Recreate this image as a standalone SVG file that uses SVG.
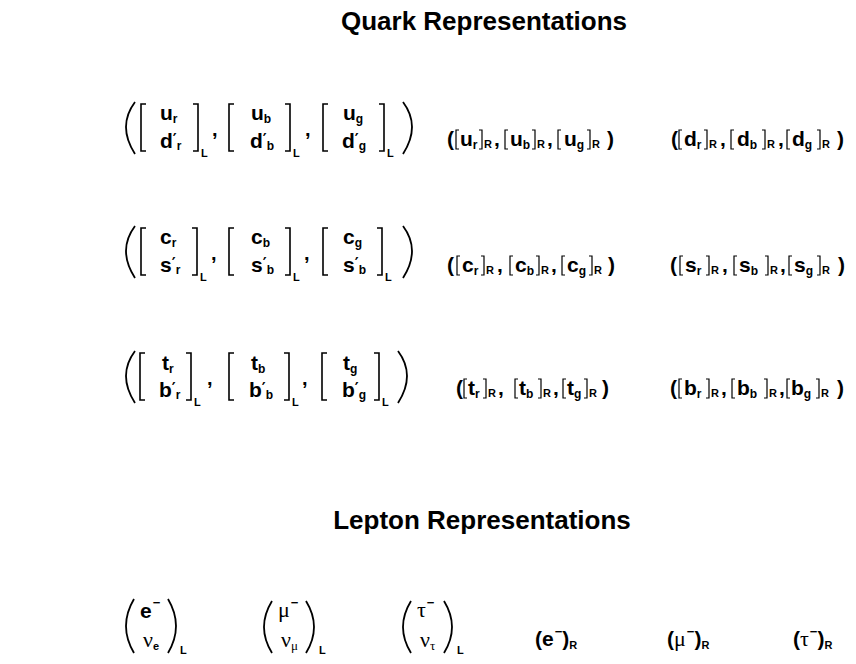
<svg xmlns="http://www.w3.org/2000/svg" width="856" height="664" viewBox="0 0 856 664">
<style>
text{fill:#000}
.h{font:bold 26px "Liberation Sans",Arial,sans-serif;text-anchor:middle}
.m{font:bold 21px "Liberation Sans",Arial,sans-serif}
.s{font:bold 12px "Liberation Sans",Arial,sans-serif}
.l{font:bold 11px "Liberation Sans",Arial,sans-serif}
.p{font:bold 15px "DejaVu Sans",sans-serif}
.c{font:bold 20px "Liberation Sans",Arial,sans-serif}
.g{font:22px "Liberation Serif","Times New Roman",serif}
.gs{font:13px "Liberation Serif","Times New Roman",serif}
.mi{font:bold 13px "Liberation Sans","DejaVu Sans",sans-serif}
.bk{fill:none;stroke:#000;stroke-width:1.6}
.tb{fill:none;stroke:#000;stroke-width:1.2}
.pa{fill:none;stroke:#000;stroke-width:1.8}
</style>
<rect width="856" height="664" fill="#fff"/>

<text class="h" x="484" y="30">Quark Representations</text>
<text class="h" x="482" y="529">Lepton Representations</text>

<!-- Row 1 doublets -->
<g id="q-ud-L">
<path class="pa" d="M135,102 Q117,126 135,154 M403,102 Q421,126 403,154"/>
<path class="bk" d="M146,104 H141 V151 H146 M193,104 H198 V151 H193 M234,104 H229 V151 H234 M285,104 H290 V151 H285 M328,104 H323 V151 H328 M379,104 H384 V151 H379"/>
<text class="m" x="160" y="120">u<tspan class="s" dy="3">r</tspan></text>
<text class="m" x="160" y="148">d<tspan class="p" dy="-3">′</tspan><tspan class="s" dy="5">r</tspan></text>
<text class="l" x="201" y="157">L</text><text class="c" x="212" y="136">,</text>
<text class="m" x="251" y="120">u<tspan class="s" dy="3">b</tspan></text>
<text class="m" x="250" y="148">d<tspan class="p" dy="-3">′</tspan><tspan class="s" dy="5">b</tspan></text>
<text class="l" x="293" y="157">L</text><text class="c" x="305" y="136">,</text>
<text class="m" x="343" y="120">u<tspan class="s" dy="3">g</tspan></text>
<text class="m" x="342" y="148">d<tspan class="p" dy="-3">′</tspan><tspan class="s" dy="5">g</tspan></text>
<text class="l" x="387" y="157">L</text>
</g>

<g id="q-u-R">
<text class="m" x="447" y="146">(</text>
<path class="tb" d="M459,130 H456 V149 H459 M479,130 H482 V149 H479 M508,130 H505 V149 H508 M532,130 H535 V149 H532 M561,130 H558 V149 H561 M587,130 H590 V149 H587"/>
<text class="m" x="460" y="146">u<tspan class="s" dy="3">r</tspan></text><text class="l" x="484" y="148">R</text><text class="m" x="494" y="146">,</text>
<text class="m" x="510" y="146">u<tspan class="s" dy="3">b</tspan></text><text class="l" x="537" y="148">R</text><text class="m" x="547" y="146">,</text>
<text class="m" x="564" y="146">u<tspan class="s" dy="3">g</tspan></text><text class="l" x="592" y="148">R</text>
<text class="m" x="607" y="146">)</text>
</g>

<g id="q-d-R">
<text class="m" x="671" y="146">(</text>
<path class="tb" d="M682,130 H679 V149 H682 M704,130 H707 V149 H704 M734,130 H731 V149 H734 M762,130 H765 V149 H762 M790,130 H787 V149 H790 M817,130 H820 V149 H817"/>
<text class="m" x="684" y="146">d<tspan class="s" dy="3">r</tspan></text><text class="l" x="709" y="148">R</text><text class="m" x="720" y="146">,</text>
<text class="m" x="737" y="146">d<tspan class="s" dy="3">b</tspan></text><text class="l" x="767" y="148">R</text><text class="m" x="778" y="146">,</text>
<text class="m" x="792" y="146">d<tspan class="s" dy="3">g</tspan></text><text class="l" x="822" y="148">R</text>
<text class="m" x="837" y="146">)</text>
</g>

<!-- Row 2 doublets -->
<g id="q-cs-L">
<path class="pa" d="M135,226 Q117,250 135,278 M403,226 Q421,250 403,278"/>
<path class="bk" d="M146,228 H141 V275 H146 M192,228 H197 V275 H192 M234,228 H229 V275 H234 M285,228 H290 V275 H285 M328,228 H323 V275 H328 M377,228 H382 V275 H377"/>
<text class="m" x="160" y="244">c<tspan class="s" dy="3">r</tspan></text>
<text class="m" x="160" y="272">s<tspan class="p" dy="-3">′</tspan><tspan class="s" dy="5">r</tspan></text>
<text class="l" x="200" y="281">L</text><text class="c" x="211" y="260">,</text>
<text class="m" x="251" y="244">c<tspan class="s" dy="3">b</tspan></text>
<text class="m" x="251" y="272">s<tspan class="p" dy="-3">′</tspan><tspan class="s" dy="5">b</tspan></text>
<text class="l" x="293" y="281">L</text><text class="c" x="304" y="260">,</text>
<text class="m" x="343" y="244">c<tspan class="s" dy="3">g</tspan></text>
<text class="m" x="343" y="272">s<tspan class="p" dy="-3">′</tspan><tspan class="s" dy="5">b</tspan></text>
<text class="l" x="385" y="281">L</text>
</g>

<g id="q-c-R">
<text class="m" x="447" y="272">(</text>
<path class="tb" d="M460,256 H457 V275 H460 M481,256 H484 V275 H481 M513,256 H510 V275 H513 M536,256 H539 V275 H536 M565,256 H562 V275 H565 M589,256 H592 V275 H589"/>
<text class="m" x="462" y="272">c<tspan class="s" dy="3">r</tspan></text><text class="l" x="486" y="274">R</text><text class="m" x="497" y="272">,</text>
<text class="m" x="515" y="272">c<tspan class="s" dy="3">b</tspan></text><text class="l" x="541" y="274">R</text><text class="m" x="551" y="272">,</text>
<text class="m" x="567" y="272">c<tspan class="s" dy="3">g</tspan></text><text class="l" x="594" y="274">R</text>
<text class="m" x="608" y="272">)</text>
</g>

<g id="q-s-R">
<text class="m" x="670" y="272">(</text>
<path class="tb" d="M683,256 H680 V275 H683 M706,256 H709 V275 H706 M737,256 H734 V275 H737 M765,256 H768 V275 H765 M792,256 H789 V275 H792 M817,256 H820 V275 H817"/>
<text class="m" x="685" y="272">s<tspan class="s" dy="3">r</tspan></text><text class="l" x="711" y="274">R</text><text class="m" x="722" y="272">,</text>
<text class="m" x="739" y="272">s<tspan class="s" dy="3">b</tspan></text><text class="l" x="770" y="274">R</text><text class="m" x="780" y="272">,</text>
<text class="m" x="794" y="272">s<tspan class="s" dy="3">g</tspan></text><text class="l" x="822" y="274">R</text>
<text class="m" x="838" y="272">)</text>
</g>

<!-- Row 3 doublets -->
<g id="q-tb-L">
<path class="pa" d="M135,351 Q117,375 135,403 M398,351 Q416,375 398,403"/>
<path class="bk" d="M145,353 H140 V400 H145 M186,353 H191 V400 H186 M234,353 H229 V400 H234 M284,353 H289 V400 H284 M327,353 H322 V400 H327 M374,353 H379 V400 H374"/>
<text class="m" x="162" y="370">t<tspan class="s" dy="3">r</tspan></text>
<text class="m" x="159" y="397">b<tspan class="p" dy="-3">′</tspan><tspan class="s" dy="5">r</tspan></text>
<text class="l" x="194" y="406">L</text><text class="c" x="207" y="385">,</text>
<text class="m" x="251" y="370">t<tspan class="s" dy="3">b</tspan></text>
<text class="m" x="249" y="397">b<tspan class="p" dy="-3">′</tspan><tspan class="s" dy="5">b</tspan></text>
<text class="l" x="292" y="406">L</text><text class="c" x="302" y="385">,</text>
<text class="m" x="343" y="370">t<tspan class="s" dy="3">g</tspan></text>
<text class="m" x="342" y="397">b<tspan class="p" dy="-3">′</tspan><tspan class="s" dy="5">g</tspan></text>
<text class="l" x="382" y="406">L</text>
</g>

<g id="q-t-R">
<text class="m" x="456" y="395">(</text>
<path class="tb" d="M467,379 H464 V398 H467 M483,379 H486 V398 H483 M518,379 H515 V398 H518 M538,379 H541 V398 H538 M566,379 H563 V398 H566 M584,379 H587 V398 H584"/>
<text class="m" x="468" y="395">t<tspan class="s" dy="3">r</tspan></text><text class="l" x="488" y="397">R</text><text class="m" x="498" y="395">,</text>
<text class="m" x="519" y="395">t<tspan class="s" dy="3">b</tspan></text><text class="l" x="543" y="397">R</text><text class="m" x="553" y="395">,</text>
<text class="m" x="567" y="395">t<tspan class="s" dy="3">g</tspan></text><text class="l" x="589" y="397">R</text>
<text class="m" x="602" y="395">)</text>
</g>

<g id="q-b-R">
<text class="m" x="670" y="395">(</text>
<path class="tb" d="M682,379 H679 V398 H682 M706,379 H709 V398 H706 M735,379 H732 V398 H735 M764,379 H767 V398 H764 M790,379 H787 V398 H790 M816,379 H819 V398 H816"/>
<text class="m" x="684" y="395">b<tspan class="s" dy="3">r</tspan></text><text class="l" x="711" y="397">R</text><text class="m" x="721" y="395">,</text>
<text class="m" x="737" y="395">b<tspan class="s" dy="3">b</tspan></text><text class="l" x="769" y="397">R</text><text class="m" x="779" y="395">,</text>
<text class="m" x="791" y="395">b<tspan class="s" dy="3">g</tspan></text><text class="l" x="821" y="397">R</text>
<text class="m" x="837" y="395">)</text>
</g>

<!-- Leptons -->
<g id="l-e-L">
<path class="pa" d="M134,599 Q118,626 134,653 M168,599 Q184,626 168,653"/>
<text class="m" x="140" y="618">e<tspan class="mi" dx="1" dy="-11">−</tspan></text>
<text class="g" x="143" y="647">ν<tspan class="l" dy="3">e</tspan></text>
<text class="l" x="180" y="654">L</text>
</g>
<g id="l-mu-L">
<path class="pa" d="M272,601 Q256,627 272,653 M306,601 Q322,627 306,653"/>
<text class="g" x="278" y="617">μ<tspan class="mi" dx="1" dy="-10">−</tspan></text>
<text class="g" x="281" y="647">ν<tspan class="gs" dy="3">μ</tspan></text>
<text class="l" x="319" y="654">L</text>
</g>
<g id="l-tau-L">
<path class="pa" d="M411,601 Q395,627 411,653 M444,601 Q460,627 444,653"/>
<text class="g" x="417" y="617">τ<tspan class="mi" dx="1" dy="-10">−</tspan></text>
<text class="g" x="420" y="647">ν<tspan class="gs" dy="3">τ</tspan></text>
<text class="l" x="457" y="654">L</text>
</g>
<g id="l-e-R">
<text class="m" x="535" y="646">(e<tspan class="mi" dx="1" dy="-10">−</tspan><tspan dy="10">)</tspan><tspan class="l" dy="3">R</tspan></text>
</g>
<g id="l-mu-R">
<text class="m" x="667" y="646">(<tspan class="g">μ</tspan><tspan class="mi" dx="1" dy="-10">−</tspan><tspan dy="10">)</tspan><tspan class="l" dy="3">R</tspan></text>
</g>
<g id="l-tau-R">
<text class="m" x="793" y="646">(<tspan class="g">τ</tspan><tspan class="mi" dx="1" dy="-10">−</tspan><tspan dy="10">)</tspan><tspan class="l" dy="3">R</tspan></text>
</g>
</svg>
